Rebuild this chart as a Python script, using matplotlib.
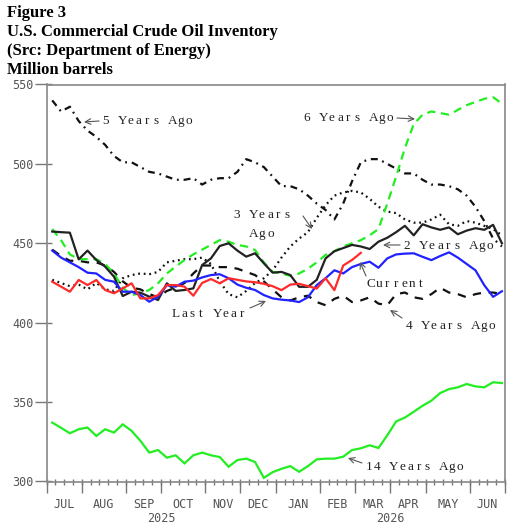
import matplotlib
matplotlib.use('Agg')
import matplotlib.pyplot as plt
import matplotlib.transforms as mtrans
from matplotlib.ticker import FixedLocator, NullFormatter
import numpy as np

plt.rcParams['lines.scale_dashes'] = False

# ---------------- data ----------------
months = ['JUL', 'AUG', 'SEP', 'OCT', 'NOV', 'DEC', 'JAN', 'FEB', 'MAR', 'APR', 'MAY', 'JUN']
month_bounds = [0, 4, 9, 13, 18, 22, 26, 31, 35, 39, 43, 48, 52]   # week index of month starts
years = ['2025', '2026']
year_pos = [13, 39]
yticks = [300, 350, 400, 450, 500, 550]

current = [425.8, 422.7, 419.5, 426.9, 423.7, 426.9, 420.6, 418.5, 421.6, 424.8, 415.3, 415.3,
           417.4, 423.7, 423.7, 422.7, 417.0, 425.0, 427.5, 424.8, 428.0, 427.0, 426.0, 425.5,
           424.5, 423.0, 420.5, 424.0, 424.5, 423.0, 421.5, 428.0, 420.5, 436.0, 439.5, 444.0]

last_year = [445.4, 441.0, 438.0, 435.0, 431.5, 431.0, 427.0, 425.8, 419.5, 419.5, 417.4, 413.2,
             416.4, 423.7, 422.7, 425.8, 426.5, 428.5, 430.0, 430.5, 428.0, 424.0, 422.0, 420.6,
             417.4, 415.3, 414.5, 414.0, 413.0, 416.0, 423.7, 428.0, 433.0, 431.0, 435.0, 437.0,
             438.4, 434.6, 440.5, 443.0, 443.5, 443.7, 441.5, 439.4, 442.0, 444.3, 441.0, 437.0,
             433.0, 423.6, 416.3, 419.8]

yrs2 = [457.4, 457.0, 456.7, 439.9, 445.4, 439.5, 435.3, 429.0, 416.8, 419.5, 418.9, 416.4,
        414.3, 424.8, 420.0, 420.6, 421.6, 436.3, 440.5, 448.3, 450.0, 445.4, 441.6, 443.7,
        437.4, 431.5, 432.0, 430.0, 422.6, 422.6, 427.0, 440.5, 445.0, 447.0, 449.0, 448.0,
        446.4, 451.0, 453.5, 457.0, 461.0, 455.0, 462.0, 460.0, 458.5, 460.0, 455.7, 458.0,
        459.5, 458.5, 461.6, 450.0]

yrs3 = [427, 425, 423, 424, 421, 425, 421, 420, 428, 430, 431, 430.5,
        432, 438, 439, 440, 440, 441, 437, 426, 418, 416, 420, 425,
        428, 433, 441, 448, 453, 457, 466, 474, 480, 482, 483, 482,
        478, 473, 470, 469, 465, 463, 463, 465, 468, 462, 461, 464,
        463, 461, 459, 455]

yrs4 = [446, 442, 439, 439, 438, 438, 436, 432, 426, 422, 421, 418,
        416, 420, 422, 425, 431, 436, 436, 435, 435, 434, 432, 430,
        426, 421, 416, 414, 416, 417, 413, 411, 415, 417, 413, 414,
        416, 412, 411, 418, 419, 416, 415, 418, 422, 419, 418, 416,
        418, 419, 419, 418]

yrs5 = [540, 533, 536, 527, 521, 517, 512, 505, 501, 501, 498, 495,
        494, 492, 490, 490, 491, 487, 490, 491, 491, 495, 503, 501,
        498, 492, 486, 486, 484, 480, 475, 471, 465, 475, 489, 501,
        503, 503, 500, 497, 494, 494, 490, 487, 487, 486, 484, 480,
        473, 464, 453, 448]

yrs6 = [459, 452, 443, 440, 440, 440, 437, 431, 422, 417.4, 418.5, 420.6,
        424.8, 431, 435.3, 439.5, 443, 446, 449, 452, 451, 449, 448, 445.8,
        438, 432, 431, 429.5, 431, 434, 438, 442.7, 445, 448, 450, 452,
        455, 459, 475, 492, 510, 525, 531, 533, 532, 531, 534, 537,
        539, 541, 542, 538]

yrs14 = [337.1, 333.8, 330.4, 332.9, 334.0, 328.7, 332.9, 330.8, 336.0, 331.9, 325.6, 318.2,
         319.8, 315.0, 316.5, 311.4, 316.5, 318.2, 316.5, 315.4, 309.3, 313.5, 314.4, 312.3,
         302.3, 305.9, 308.0, 309.7, 306.1, 309.7, 313.9, 314.4, 314.4, 315.6, 319.8, 320.9,
         322.8, 321.1, 329.1, 337.8, 340.3, 343.9, 347.7, 350.9, 355.7, 358.2, 359.3, 361.4,
         359.9, 359.3, 362.5, 362.0]

# ---------------- figure ----------------
W, H = 520, 531
fig = plt.figure(figsize=(W / 100, H / 100), dpi=100)
ax = fig.add_axes([46.5 / W, 1 - 481.5 / H, (505 - 46.5) / W, (481.5 - 84.5) / H])

def P(x, y):
    return (x / W, 1 - y / H)

wk_offset = 0.65
def xs(vals):
    return np.arange(len(vals)) + wk_offset

GREEN = '#22ee22'
lw = 1.6
ax.plot(xs(yrs14), yrs14, color=GREEN, lw=lw, solid_joinstyle='miter')
ax.plot(xs(yrs5), yrs5, color='#111111', lw=lw, dashes=[5, 3.5, 1.3, 3.5])
ax.plot(xs(yrs4), yrs4, color='#111111', lw=lw, dashes=[6, 5.5])
ax.plot(xs(yrs3), yrs3, color='#111111', lw=lw, dashes=[1.3, 2.7])
ax.plot(xs(yrs6), yrs6, color=GREEN, lw=lw, dashes=[6, 4])
ax.plot(xs(yrs2), yrs2, color='#222222', lw=lw)
ax.plot(xs(last_year), last_year, color='#2222ff', lw=lw)
ax.plot(xs(current), current, color='#ff2a2a', lw=lw)

ax.set_xlim(0, 52)
ax.set_ylim(300, 550)

for s in ax.spines.values():
    s.set_color('#888888')
    s.set_linewidth(1.2)

# y ticks
ax.yaxis.set_major_locator(FixedLocator(yticks))
ax.yaxis.set_minor_locator(FixedLocator(yticks))
ax.yaxis.remove_overlapping_locs = False
ax.set_yticklabels([str(v) for v in yticks])
ax.tick_params(axis='y', which='major', direction='out', length=8.4, width=1,
               color='#777777', labelsize=8.5, labelcolor='#555555', pad=0.8)
ax.tick_params(axis='y', which='minor', direction='in', length=3.6, width=1, color='#777777')
for t in ax.get_yticklabels():
    t.set_family('DejaVu Sans Mono')

# x ticks
ax.xaxis.set_major_locator(FixedLocator(month_bounds))
ax.xaxis.set_minor_locator(FixedLocator(list(range(0, 53))))
ax.xaxis.remove_overlapping_locs = False
ax.xaxis.set_major_formatter(NullFormatter())
ax.tick_params(axis='x', which='major', direction='out', length=8, width=1, color='#777777')
ax.tick_params(axis='x', which='minor', direction='inout', length=5, width=1, color='#777777')

btrans = mtrans.blended_transform_factory(ax.transData, fig.transFigure)
for k, m in enumerate(months):
    c = (month_bounds[k] + month_bounds[k + 1]) / 2
    ax.text(c, 1 - 505 / H, m, transform=btrans, ha='center', va='center',
            fontsize=8.5, family='DejaVu Sans Mono', color='#555555')
for yl, p in zip(years, year_pos):
    ax.text(p, 1 - 519 / H, yl, transform=btrans, ha='center', va='center',
            fontsize=8.5, family='DejaVu Sans Mono', color='#555555')

# title
title_lines = ['Figure 3', 'U.S. Commercial Crude Oil Inventory',
               '(Src: Department of Energy)', 'Million barrels']
for k, line in enumerate(title_lines):
    fig.text(*P(7, 16.7 + 19.2 * k), line, ha='left', va='baseline', fontsize=12,
             fontweight='bold', family='Liberation Serif', color='black')

# annotations
def spaced(s, x_left, y_center, adv=8.3, size=9.5):
    for k, ch in enumerate(s):
        if ch == ' ':
            continue
        fig.text(*P(x_left + 3.8 + k * adv, y_center + 4), ch, ha='center', va='baseline',
                 fontsize=size, family='Liberation Serif', color='#222222')

def arrow(tail, head):
    ax.annotate('', xy=P(*head), xytext=P(*tail), xycoords='figure fraction',
                textcoords='figure fraction',
                arrowprops=dict(arrowstyle='->', color='#555555', lw=0.8,
                                shrinkA=0, shrinkB=0))

spaced('5 Years Ago', 102, 120)
arrow((99, 121), (84, 122))
spaced('6 Years Ago', 303, 117)
arrow((397, 118), (415, 119))
spaced('3 Years', 233, 214)
spaced('Ago', 250, 233)
arrow((303, 216), (312, 229))
spaced('2 Years Ago', 403, 245)
arrow((400, 245), (383, 245))
spaced('Current', 367, 283)
arrow((366, 276), (360, 262))
spaced('4 Years Ago', 405, 325)
arrow((402, 318), (390, 310))
spaced('Last Year', 172, 313)
arrow((250, 308), (266, 301))
spaced('14 Years Ago', 365, 466)
arrow((362, 463), (348, 458))

fig.savefig('out.png', dpi=100)
